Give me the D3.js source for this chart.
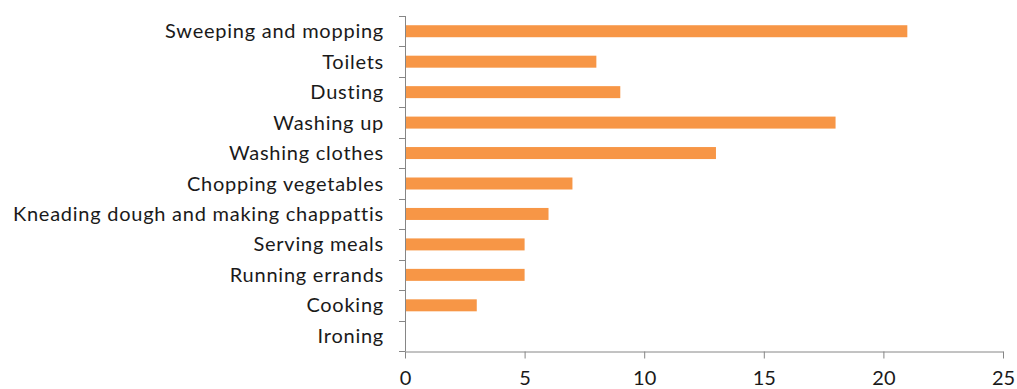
<!DOCTYPE html>
<html>
<head>
<meta charset="utf-8">
<script src="https://cdn.jsdelivr.net/npm/d3@7"></script>
<style>
  html, body { margin: 0; padding: 0; background: #fff; }
  svg { display: block; }
  text { font-family: Lato, "Open Sans", sans-serif; fill: #1a1a1a; }
</style>
</head>
<body>
<svg id="chart" width="1017" height="389"></svg>
<script>
// Household tasks and their counts
const categories = [
  "Sweeping and mopping", "Toilets", "Dusting", "Washing up", "Washing clothes",
  "Chopping vegetables", "Kneading dough and making chappattis", "Serving meals",
  "Running errands", "Cooking", "Ironing"
];
const values = [21, 8, 9, 18, 13, 7, 6, 5, 5, 3, 0];
const xTicks = [0, 5, 10, 15, 20, 25];

const svg = d3.select("#chart");
const plotLeft = 405, plotRight = 1003, plotTop = 16, plotBottom = 351;
const axisColor = "#868686";
const fontSize = 20;

const x = d3.scaleLinear().domain([0, 25]).range([plotLeft, plotRight]);
const yBand = d3.scaleBand().domain(categories).range([plotTop, plotBottom]);
const barH = 12;

// bars
svg.append("g").selectAll("rect")
  .data(categories)
  .join("rect")
  .attr("x", x(0))
  .attr("y", (d) => yBand(d) + (yBand.bandwidth() - barH) / 2)
  .attr("height", barH)
  .attr("width", (d, i) => x(values[i]) - x(0))
  .attr("fill", "#F79646");

// vertical axis line with outward ticks at band boundaries
const gy = svg.append("g");
gy.append("line")
  .attr("x1", plotLeft + 0.5).attr("x2", plotLeft + 0.5)
  .attr("y1", plotTop).attr("y2", plotBottom)
  .attr("stroke", axisColor);
const bounds = categories.map((d) => yBand(d)).concat([plotBottom]);
gy.selectAll("line.tick")
  .data(bounds)
  .join("line")
  .attr("class", "tick")
  .attr("x1", plotLeft - 6).attr("x2", plotLeft + 0.5)
  .attr("y1", (d) => Math.round(d) + 0.5).attr("y2", (d) => Math.round(d) + 0.5)
  .attr("stroke", axisColor);
gy.selectAll("text")
  .data(categories)
  .join("text")
  .attr("x", plotLeft - 21)
  .attr("y", (d) => yBand(d) + yBand.bandwidth() / 2)
  .attr("dy", "0.35em")
  .attr("text-anchor", "end")
  .attr("font-size", fontSize)
  .attr("letter-spacing", "0.75px")
  .text((d) => d);

// horizontal axis
const xAxis = d3.axisBottom(x).tickValues(xTicks).tickSize(7).tickPadding(12).tickSizeOuter(0);
const gx = svg.append("g")
  .attr("transform", `translate(0,${plotBottom + 0.5})`)
  .call(xAxis);
gx.select(".domain").attr("stroke", axisColor);
gx.selectAll(".tick line").attr("stroke", axisColor);
gx.selectAll(".tick text")
  .attr("font-size", fontSize)
  .attr("font-family", "Lato, 'Open Sans', sans-serif")
  .attr("fill", "#1a1a1a");
</script>
</body>
</html>
